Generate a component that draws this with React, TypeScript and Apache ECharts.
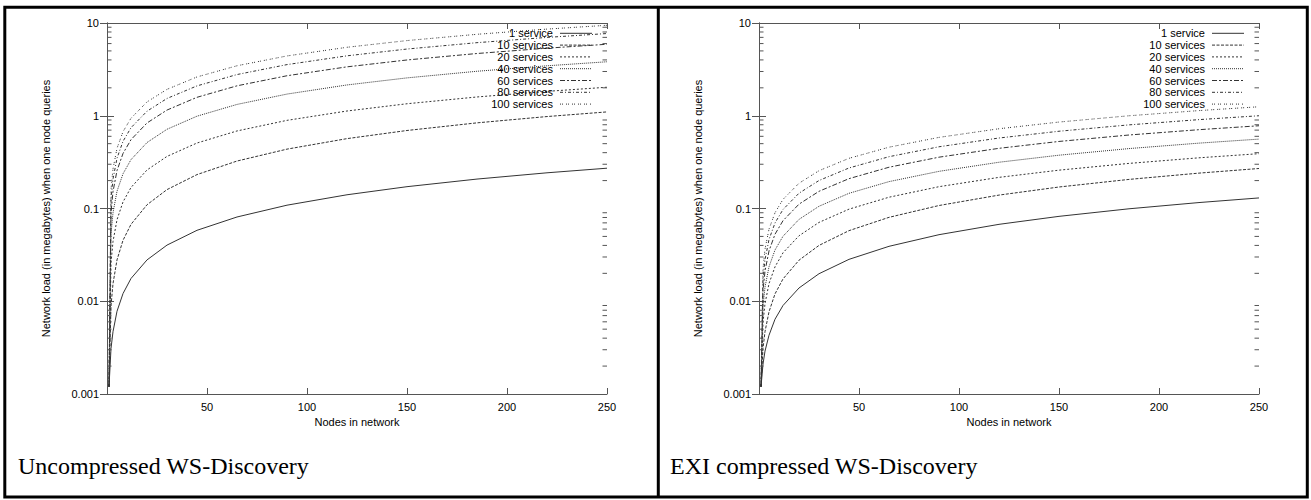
import React, { useEffect, useRef } from "react";
import * as echarts from "echarts";

// ---------- data ----------
const NODES = [1, 2, 3, 5, 8, 12, 20, 30, 45, 65, 90, 120, 150, 185, 220, 250];
const SERIES_NAMES = ["1 service", "10 services", "20 services", "40 services", "60 services", "80 services", "100 services"];

// Uncompressed WS-Discovery (megabytes)
const UNC_1 = [0.0012, 0.0031, 0.0047, 0.0078, 0.0121, 0.0176, 0.0279, 0.0403, 0.0582, 0.081, 0.1086, 0.1406, 0.1719, 0.2076, 0.2426, 0.272];
const UNC_10 = [0.0012, 0.0089, 0.0155, 0.0279, 0.0454, 0.0675, 0.1097, 0.1599, 0.2321, 0.3248, 0.4366, 0.5667, 0.6935, 0.8383, 0.9803, 1.1];
const UNC_20 = [0.0012, 0.0258, 0.044, 0.0757, 0.1177, 0.1685, 0.2602, 0.3645, 0.5083, 0.6856, 0.8921, 1.125, 1.347, 1.594, 1.832, 2.03];
const UNC_40 = [0.0012, 0.0528, 0.0899, 0.1534, 0.2367, 0.3364, 0.5144, 0.715, 0.9893, 1.3248, 1.7128, 2.148, 2.56, 3.018, 3.456, 3.82];
const UNC_60 = [0.0012, 0.0903, 0.152, 0.2566, 0.3919, 0.5522, 0.8359, 1.152, 1.581, 2.102, 2.7, 3.367, 3.994, 4.689, 5.352, 5.9];
const UNC_80 = [0.0012, 0.124, 0.2078, 0.3486, 0.5297, 0.7432, 1.119, 1.536, 2.099, 2.781, 3.56, 4.427, 5.239, 6.137, 6.993, 7.7];
const UNC_100 = [0.0012, 0.1605, 0.2672, 0.4455, 0.6734, 0.9407, 1.409, 1.926, 2.621, 3.459, 4.414, 5.473, 6.463, 7.555, 8.594, 9.45];

// EXI compressed WS-Discovery (megabytes)
const EXI_1 = [0.0012, 0.0021, 0.0029, 0.0043, 0.0064, 0.009, 0.0139, 0.0198, 0.0283, 0.0391, 0.0522, 0.0675, 0.0823, 0.0993, 0.1159, 0.13];
const EXI_10 = [0.0012, 0.0031, 0.0047, 0.0077, 0.012, 0.0174, 0.0277, 0.04, 0.0577, 0.0803, 0.1077, 0.1395, 0.1705, 0.2059, 0.2407, 0.27];
const EXI_20 = [0.0012, 0.0059, 0.0094, 0.0155, 0.0235, 0.0333, 0.0508, 0.0708, 0.0984, 0.1323, 0.1719, 0.2166, 0.259, 0.3064, 0.352, 0.39];
const EXI_40 = [0.0012, 0.0088, 0.0142, 0.0235, 0.0357, 0.0502, 0.0763, 0.1057, 0.1458, 0.1949, 0.2516, 0.3153, 0.3756, 0.4426, 0.5067, 0.56];
const EXI_60 = [0.0012, 0.013, 0.0211, 0.0349, 0.0528, 0.0739, 0.1114, 0.1532, 0.2098, 0.2786, 0.3575, 0.4455, 0.5284, 0.62, 0.7076, 0.78];
const EXI_80 = [0.0012, 0.0171, 0.028, 0.0463, 0.0698, 0.0975, 0.1462, 0.2003, 0.2734, 0.3618, 0.4629, 0.5753, 0.6807, 0.7973, 0.9083, 1.0];
const EXI_100 = [0.0012, 0.0223, 0.0364, 0.0599, 0.09, 0.1254, 0.1872, 0.2556, 0.3475, 0.4582, 0.5845, 0.7243, 0.8552, 0.9995, 1.1368, 1.25];

const UNC = [UNC_1, UNC_10, UNC_20, UNC_40, UNC_60, UNC_80, UNC_100];
const EXI = [EXI_1, EXI_10, EXI_20, EXI_40, EXI_60, EXI_80, EXI_100];

const Y_DECADES = [0.001, 0.01, 0.1, 1, 10];
const X_MIN = 0;
const X_MAX = 250;
const X_INTERVAL = 50;
const CAPTIONS = ["Uncompressed WS-Discovery", "EXI compressed WS-Discovery"];
const X_TITLE = "Nodes in network";
const Y_TITLE = "Network load (in megabytes) when one node queries";

// ---------- styles ----------
const SANS = '"Liberation Sans", Arial, Helvetica, sans-serif';
const SERIF = '"Liberation Serif", "Times New Roman", serif';
const LINE_COLOR = "#333";
const AXIS_COLOR = "#555";
const DASHES: any[] = ["solid", [3, 1.5], [2, 2], [1, 1], [5, 2, 2, 2], [3, 2, 1, 2], [1, 1, 1, 3]];
const GRID_LEFTS = [107, 759];
const GRID_TOP = 23;
const GRID_W = 500;
const GRID_H = 371;

export default function App() {
  const ref = useRef<HTMLDivElement>(null);

  useEffect(() => {
    if (!ref.current) return;
    const chart = echarts.init(ref.current, null, { renderer: "svg" });

    const minorTicks: number[] = [];
    for (let d = 0; d < Y_DECADES.length - 1; d++) {
      for (let k = 2; k <= 9; k++) minorTicks.push(Number((Y_DECADES[d] * k).toPrecision(3)));
    }

    const grids: any[] = [];
    const xAxes: any[] = [];
    const yAxes: any[] = [];
    const series: any[] = [];
    const graphics: any[] = [];

    const fmtY = (v: number) => String(Number(v.toPrecision(3)));

    [UNC, EXI].forEach((panel, p) => {
      const gl = GRID_LEFTS[p];
      grids.push({ left: gl, top: GRID_TOP, width: GRID_W, height: GRID_H, containLabel: false });

      const xBase = {
        type: "value",
        gridIndex: p,
        min: X_MIN,
        max: X_MAX,
        interval: X_INTERVAL,
        splitLine: { show: false },
        axisLine: { show: true, lineStyle: { color: AXIS_COLOR, width: 1 } },
        axisTick: { show: true, inside: true, length: 6, lineStyle: { color: AXIS_COLOR } },
      };
      xAxes.push({
        ...xBase,
        position: "bottom",
        name: X_TITLE,
        nameLocation: "middle",
        nameGap: 21,
        nameTextStyle: { fontFamily: SANS, fontSize: 11, color: "#000" },
        axisLabel: {
          show: true,
          margin: 7,
          fontFamily: SANS,
          fontSize: 11,
          color: "#000",
          formatter: (v: number) => (v === X_MIN ? "" : String(v)),
        },
      });
      xAxes.push({ ...xBase, position: "top", axisLabel: { show: false } });

      const yBase = {
        type: "log",
        logBase: 10,
        gridIndex: p,
        min: Y_DECADES[0],
        max: Y_DECADES[Y_DECADES.length - 1],
        splitLine: { show: false },
        axisLine: { show: true, lineStyle: { color: AXIS_COLOR, width: 1 } },
        axisTick: { show: true, inside: true, length: 7, lineStyle: { color: AXIS_COLOR } },
      };
      yAxes.push({
        ...yBase,
        position: "left",
        name: Y_TITLE,
        nameLocation: "middle",
        nameGap: 56,
        nameTextStyle: { fontFamily: SANS, fontSize: 11, color: "#000" },
        axisLabel: {
          show: true,
          margin: 8,
          fontFamily: SANS,
          fontSize: 11,
          color: "#000",
          showMinLabel: true,
          showMaxLabel: true,
          formatter: fmtY,
        },
      });
      yAxes.push({ ...yBase, position: "right", axisLabel: { show: false } });

      const xi = p * 2;
      const yi = p * 2;

      panel.forEach((vals, s) => {
        series.push({
          type: "line",
          name: SERIES_NAMES[s],
          xAxisIndex: xi,
          yAxisIndex: yi,
          data: NODES.map((n, i) => [n, vals[i]]),
          showSymbol: false,
          symbol: "none",
          smooth: false,
          clip: true,
          silent: true,
          lineStyle: { color: LINE_COLOR, width: 1, type: DASHES[s] },
          z: 2,
        });
      });

      // minor log ticks on both vertical sides
      series.push({
        type: "custom",
        xAxisIndex: xi,
        yAxisIndex: yi,
        silent: true,
        clip: false,
        data: minorTicks.map((v) => [X_MIN, v]),
        renderItem: (_params: any, api: any) => {
          const v = api.value(1);
          const l = api.coord([X_MIN, v]);
          const r = api.coord([X_MAX, v]);
          const st = { stroke: AXIS_COLOR, lineWidth: 1 };
          return {
            type: "group",
            children: [
              { type: "line", shape: { x1: l[0], y1: l[1], x2: l[0] + 4.5, y2: l[1] }, style: st },
              { type: "line", shape: { x1: r[0], y1: r[1], x2: r[0] - 4.5, y2: r[1] }, style: st },
            ],
          };
        },
        z: 3,
      });

      // legend (gnuplot style: right-aligned text, sample line on the right)
      SERIES_NAMES.forEach((name, s) => {
        const y = 33.3 + s * 11.8;
        graphics.push({
          type: "text",
          x: gl + 446,
          y,
          silent: true,
          style: { text: name, align: "right", verticalAlign: "middle", font: `11px ${SANS}`, fill: "#000" },
          z: 10,
        });
        graphics.push({
          type: "line",
          silent: true,
          shape: { x1: gl + 453, y1: y, x2: gl + 485, y2: y },
          style: { stroke: LINE_COLOR, lineWidth: 1, lineDash: DASHES[s] === "solid" ? null : DASHES[s] },
          z: 10,
        });
      });
    });

    // captions
    graphics.push({
      type: "text",
      x: 18,
      y: 466,
      silent: true,
      style: { text: CAPTIONS[0], align: "left", verticalAlign: "middle", font: `24px ${SERIF}`, fill: "#000" },
    });
    graphics.push({
      type: "text",
      x: 670,
      y: 466,
      silent: true,
      style: { text: CAPTIONS[1], align: "left", verticalAlign: "middle", font: `24px ${SERIF}`, fill: "#000" },
    });

    // table borders
    graphics.push({
      type: "rect",
      silent: true,
      shape: { x: 4.8, y: 7.2, width: 1302.5, height: 489.8 },
      style: { fill: "none", stroke: "#000", lineWidth: 3 },
    });
    graphics.push({
      type: "line",
      silent: true,
      shape: { x1: 658.3, y1: 7.2, x2: 658.3, y2: 497 },
      style: { stroke: "#000", lineWidth: 3 },
    });

    chart.setOption({
      animation: false,
      backgroundColor: "#fff",
      textStyle: { fontFamily: SANS },
      grid: grids,
      xAxis: xAxes,
      yAxis: yAxes,
      series,
      graphic: { elements: graphics },
    });

    return () => chart.dispose();
  }, []);

  return <div ref={ref} style={{ position: "absolute", left: 0, top: 0, width: 1311, height: 500 }} />;
}
